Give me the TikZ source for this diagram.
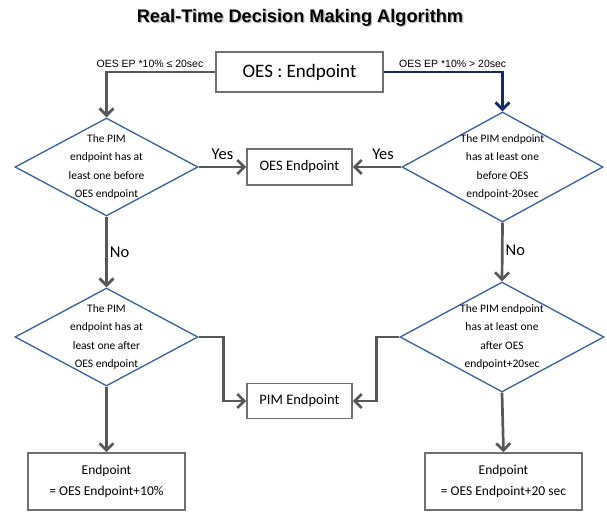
\documentclass[tikz,border=0pt]{standalone}
\usepackage{fontspec}
\setmainfont{Carlito}
\newfontfamily\arialf{Liberation Sans}
\usetikzlibrary{shapes.geometric,arrows.meta}
\definecolor{linegray}{RGB}{88,88,88}
\definecolor{boxgray}{RGB}{112,112,112}
\definecolor{diablue}{RGB}{64,104,158}
\definecolor{navyline}{RGB}{22,40,110}
\begin{document}
\begin{tikzpicture}[x=1pt,y=-1pt,
  box/.style={draw=boxgray, line width=1.6pt, fill=white, rectangle,
    inner sep=0pt, align=center},
  dia/.style={draw=diablue, line width=1.4pt, diamond, inner sep=0pt},
  dtext/.style={align=center, inner sep=0pt,
    font=\fontsize{11.5}{18.5}\selectfont},
  conn/.style={draw=linegray, line width=2.7pt,
    -{Straight Barb[length=7pt,width=14pt]}},
  elabel/.style={font=\arialf\fontsize{10.5}{12}\selectfont, inner sep=0pt},
  yn/.style={font=\fontsize{16.5}{18}\selectfont, inner sep=0pt}]
\useasboundingbox (0,0) rectangle (607,511);

% title with its grey drop shadow
\node[font=\arialf\bfseries\fontsize{18.2}{21}\selectfont, text=gray!55]
  (titleshadow) at (301.3,19.3) {Real-Time Decision Making Algorithm};
\node[font=\arialf\bfseries\fontsize{18.2}{21}\selectfont]
  (title) at (300,18) {Real-Time Decision Making Algorithm};

% start box
\node[box, minimum width=167pt, minimum height=40pt,
  font=\fontsize{19}{22}\selectfont] (oes) at (299.5,72) {OES : Endpoint};

% decision diamonds (text set separately on top)
\node[dia, minimum width=183pt, minimum height=98pt] (d1L) at (106.5,167) {};
\node[dtext] (t1L) at (d1L) {The PIM\\endpoint has at\\least one before\\OES endpoint};
\node[dia, minimum width=201pt, minimum height=110pt] (d1R) at (502.5,167) {};
\node[dtext] (t1R) at (d1R) {The PIM endpoint\\has at least one\\before OES\\endpoint-20sec};
\node[dia, minimum width=183pt, minimum height=98pt] (d2L) at (106.5,337) {};
\node[dtext] (t2L) at (d2L) {The PIM\\endpoint has at\\least one after\\OES endpoint};
\node[dia, minimum width=204pt, minimum height=110pt] (d2R) at (502,337) {};
\node[dtext] (t2R) at (d2R) {The PIM endpoint\\has at least one\\after OES\\endpoint+20sec};

% result boxes
\node[box, minimum width=105pt, minimum height=36pt,
  font=\fontsize{14.5}{17}\selectfont] (oesEnd) at (299.5,167) {OES Endpoint};
\node[box, minimum width=105pt, minimum height=35pt,
  font=\fontsize{14.5}{17}\selectfont] (pim) at (299.5,401) {PIM Endpoint};
\node[box, minimum width=157pt, minimum height=57pt,
  font=\fontsize{13.5}{20.5}\selectfont] (lb) at (106.5,481.5)
  {Endpoint\\= OES Endpoint+10\%};
\node[box, minimum width=157pt, minimum height=57pt,
  font=\fontsize{13.5}{20.5}\selectfont] (rb) at (503.5,481.5)
  {Endpoint\\= OES Endpoint+20 sec};

% connectors from the start box
\draw[conn] (oes.west) -| node[elabel, pos=0.3, above=3.5pt]
  {OES EP *10\% ≤ 20sec} (d1L.north);
\draw[conn, draw=navyline] (oes.east) -| node[elabel, pos=0.29, above=3.5pt]
  {OES EP *10\% > 20sec} (d1R.north);

% yes branches
\draw[conn] (d1L.east) -- node[yn, above=6pt] {Yes} (oesEnd.west);
\draw[conn] (d1R.west) -- node[yn, above=6pt, xshift=6pt] {Yes} (oesEnd.east);

% no branches
\draw[conn] (d1L.south) -- node[yn, right=2pt] {No} (d2L.north);
\draw[conn] (d1R.south) -- node[yn, right=2pt, yshift=2pt] {No} (d2R.north);

% second decisions
\draw[conn] (d2L.east) -- ++(25,0) |- (pim.west);
\draw[conn] (d2R.west) -- ++(-23,0) |- (pim.east);
\draw[conn] (d2L.south) -- (lb.north);
\draw[conn] (d2R.south) -- (rb.north);
\end{tikzpicture}
\end{document}
